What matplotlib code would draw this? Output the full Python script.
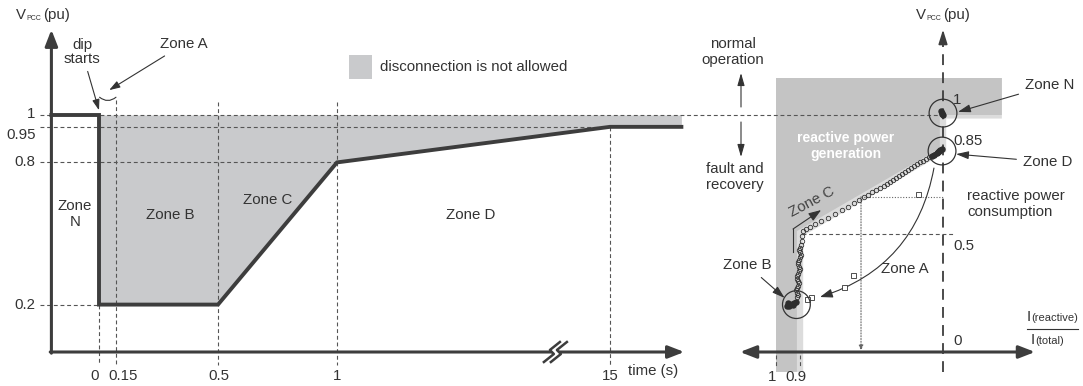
import numpy as np
import matplotlib.pyplot as plt
from matplotlib.patches import Polygon, Rectangle
from matplotlib.transforms import IdentityTransform

plt.rcParams['font.family'] = ['Liberation Sans', 'DejaVu Sans']
plt.rcParams['font.size'] = 10.8
plt.rcParams['text.color'] = '#333333'

W, H = 1083, 386
DARK = '#3d3d3d'
TXT = '#333333'
FILL_L = '#c9cacc'
FILL_R = '#c4c4c4'
FILL_EDGE = '#dcdcdc'

# ---- left panel: voltage profile the unit must ride through ----
t_prof = [-0.2, 0, 0, 0.5, 1, 15, 20]
v_prof = [1, 1, 0.2, 0.2, 0.8, 0.95, 0.95]
t_band = [0, 0.5, 1, 15, 20]
v_band = [0.2, 0.2, 0.8, 0.95, 0.95]
t_ticks = [0, 0.15, 0.5, 1, 15]
t_labels = ['0', '0.15', '0.5', '1', '15']
v_ticks = [1, 0.95, 0.8, 0.2]
v_labels = ['1', '0.95', '0.8', '0.2']
T_AXIS, T_END, T_BREAK = -0.2, 20.2, 12.2

# ---- right panel: measured trajectory, I(reactive)/I(total) vs V ----
zoneN_r = [0.010, 0.004, 0.0, 0.006]
zoneN_v = [1.015, 1.01, 1.0, 1.005]
zoneD_r = [0.070, 0.055, 0.040, 0.028, 0.017, 0.006, 0.030]
zoneD_v = [0.826, 0.833, 0.840, 0.846, 0.851, 0.855, 0.842]
zoneB_r = [0.955, 0.945, 0.935, 0.925, 0.915, 0.93, 0.945, 0.95]
zoneB_v = [0.195, 0.198, 0.202, 0.206, 0.21, 0.198, 0.193, 0.205]
zoneA_r = [0.157, 0.566, 0.623, 0.830, 0.855]
zoneA_v = [0.667, 0.325, 0.274, 0.232, 0.224]
zoneC_r = [0.913, 0.908, 0.913, 0.917, 0.913, 0.908, 0.904, 0.908, 0.913,
           0.913, 0.908, 0.904, 0.900, 0.904, 0.908, 0.908, 0.904, 0.900,
           0.893, 0.900, 0.904, 0.900, 0.893, 0.887, 0.887,
           0.881, 0.862, 0.836, 0.805, 0.767, 0.723, 0.679, 0.635, 0.597,
           0.560, 0.528, 0.497, 0.472, 0.447, 0.421, 0.396, 0.371, 0.352,
           0.333, 0.314, 0.296, 0.277, 0.258, 0.239, 0.220, 0.201, 0.182,
           0.164, 0.145, 0.126, 0.107, 0.088, 0.069, 0.050, 0.038]
zoneC_v = [0.23, 0.24, 0.25, 0.26, 0.27, 0.28, 0.29, 0.30, 0.31,
           0.32, 0.33, 0.34, 0.35, 0.36, 0.37, 0.38, 0.39, 0.40,
           0.41, 0.42, 0.43, 0.44, 0.45, 0.47, 0.49,
           0.511, 0.519, 0.527, 0.540, 0.553, 0.565, 0.582, 0.599, 0.612,
           0.629, 0.641, 0.654, 0.662, 0.675, 0.684, 0.692, 0.700, 0.709,
           0.717, 0.726, 0.734, 0.743, 0.751, 0.759, 0.768, 0.776, 0.785,
           0.793, 0.802, 0.806, 0.814, 0.823, 0.827, 0.835, 0.840]
# region where reactive current must be injected
gen_r = [1.0, 1.0, -0.37, -0.37, 0.02, 0.02, 0.913, 0.913]
gen_v = [-0.084, 1.156, 1.156, 1.0, 1.0, 0.86, 0.51, -0.084]
gen_edge_r = [1.0, 1.0, -0.37, -0.37, -0.02, -0.02, 0.88, 0.88]
gen_edge_v = [-0.084, 1.156, 1.156, 0.985, 0.985, 0.845, 0.49, -0.084]
r_ticks = [1, 0.9]
r_labels = ['1', '0.9']
DOT_R, DOT_V = 0.516, 0.655

# schematic (non-proportional) axis positions
T_KNOTS = [-1, 0, 0.15, 0.5, 1, 15, 30]
T_POS = [-1, 0, 0.0714, 0.5, 1, 2.147, 3.047]
R_KNOTS = [-2, 0, 0.9, 1, 3]
R_POS = [-318, 0, 143, 167, 647]


def t_fwd(t):
    return np.interp(t, T_KNOTS, T_POS)


def t_inv(d):
    return np.interp(d, T_POS, T_KNOTS)


def r_fwd(r):
    return np.interp(r, R_KNOTS, R_POS)


def r_inv(d):
    return np.interp(d, R_POS, R_KNOTS)


def fx(x, y):
    return (x / W, 1 - y / H)


fig = plt.figure(figsize=(W / 100, H / 100), dpi=100)
axL = fig.add_axes([0, 0, 700 / W, 1])
axR = fig.add_axes([700 / W, 0, 383 / W, 1])
for ax in (axL, axR):
    ax.set_axis_off()
    ax.set_ylim(-34 / 237, 352 / 237)
axL.set_xscale('function', functions=(t_fwd, t_inv))
axL.set_xlim(t_inv(-99 / 238), t_inv(601 / 238))
axR.set_xscale('function', functions=(r_fwd, r_inv))
axR.set_xlim(r_inv(243), r_inv(-140))

dash = (0, (3.5, 2.5))
dkw = dict(color='#555555', lw=0.8, ls=dash)

# ---------- left ----------
axL.fill_between(t_band, v_band, 1, color=FILL_L, lw=0, zorder=1)
axL.plot([-0.25, t_inv(601 / 238)], [1, 1], **dkw)
axL.plot([-0.25, 15], [0.95, 0.95], **dkw)
axL.plot([-0.25, 1], [0.8, 0.8], **dkw)
axL.plot([-0.25, 0], [0.2, 0.2], **dkw)
axL.plot([0, 0], [0.2, -0.055], **dkw)
axL.plot([0.15, 0.15], [1.063, -0.055], **dkw)
axL.plot([0.5, 0.5], [1.055, -0.055], **dkw)
axL.plot([1, 1], [1.055, -0.055], **dkw)
axL.plot([15, 15], [0.95, -0.055], **dkw)
axL.plot(t_prof, v_prof, color=DARK, lw=2.8, solid_joinstyle='miter', zorder=3)

akw = dict(arrowstyle='-|>,head_length=0.9,head_width=0.35', color=DARK, lw=2.2,
           shrinkA=0, shrinkB=0)
axL.annotate('', xy=(T_AXIS, 1.36), xytext=(T_AXIS, -0.005), arrowprops=akw, zorder=4)
axL.annotate('', xy=(T_END, 0), xytext=(T_AXIS - 0.005, 0), arrowprops=akw, zorder=4)

# axis break: two slanted zigzags, drawn in pixels around the break point
bx, by = axL.transData.transform((T_BREAK, 0))
zz = np.array([(-8, -10), (2, -2), (-2, 2), (8, 10)], dtype=float)
s1 = zz + [bx - 3.5, by]
s2 = zz + [bx + 3.5, by]
fig.add_artist(Polygon(np.vstack([s1, s2[::-1]]), closed=True, color='white', lw=0,
                       transform=IdentityTransform(), zorder=5))
for s in (s1, s2):
    fig.add_artist(plt.Line2D(s[:, 0], s[:, 1], color=DARK, lw=1.8,
                              transform=IdentityTransform(), zorder=6))

for t, lab, dx in zip(t_ticks, t_labels, [-4, 7, 1, 0, 0]):
    axL.annotate(lab, (t, 0), xytext=(dx, -24), textcoords='offset pixels',
                 ha='center', va='center', color=TXT)
for v, lab, dy in zip(v_ticks, v_labels, [1, -8, 0, 0]):
    axL.annotate(lab, (T_AXIS, v), xytext=(-16, dy), textcoords='offset pixels',
                 ha='right', va='center', color=TXT)
fig.text(*fx(653, 371), 'time (s)', ha='center', va='center')

# Zone A brace and pointers
axL.annotate('', xy=(0.15, 1.075), xytext=(0.005, 1.075),
             arrowprops=dict(arrowstyle='-', lw=0.8, color=TXT,
                             connectionstyle='arc3,rad=0.4', shrinkA=0, shrinkB=0))
axL.annotate('dip\nstarts', xy=(0, 1.02), xytext=fx(82, 52), textcoords='figure fraction',
             ha='center', va='center', linespacing=1.0,
             arrowprops=dict(arrowstyle='-|>,head_length=0.6,head_width=0.2', lw=0.8,
                             color=TXT, shrinkA=2, shrinkB=0))
axL.annotate('Zone A', xy=(0.09, 1.105), xytext=fx(184, 44), textcoords='figure fraction',
             ha='center', va='center',
             arrowprops=dict(arrowstyle='-|>,head_length=0.6,head_width=0.2', lw=0.8,
                             color=TXT, shrinkA=3, shrinkB=0))

fig.text(*fx(75, 214), 'Zone\nN', ha='center', va='center', linespacing=1.1)
fig.text(*fx(170, 215), 'Zone B', ha='center', va='center')
fig.text(*fx(268, 200), 'Zone C', ha='center', va='center')
fig.text(*fx(471, 215), 'Zone D', ha='center', va='center')

fig.add_artist(Rectangle(fx(349, 79), 23 / W, 24 / H, transform=fig.transFigure,
                         color=FILL_L, lw=0))
fig.text(*fx(380, 67), 'disconnection is not allowed', ha='left', va='center')


def vlabel(x, y):
    fig.text(*fx(x, y), 'V', ha='left', va='center')
    fig.text(*fx(x + 10, y + 3), 'PCC', fontsize=5, ha='left', va='center')
    fig.text(*fx(x + 27, y), '(pu)', ha='left', va='center')


vlabel(16, 15)

# ---------- right ----------
axR.add_patch(Polygon(np.column_stack([gen_edge_r, gen_edge_v]), closed=True,
                      color=FILL_EDGE, lw=0, zorder=1))
axR.add_patch(Polygon(np.column_stack([gen_r, gen_v]), closed=True,
                      color=FILL_R, lw=0, zorder=1))
axR.plot([r_inv(243), 0], [1, 1], **dkw)
axR.plot([0.887, -0.075], [0.5, 0.5], **dkw)
for r in r_ticks:
    axR.plot([r, r], [-0.012, -0.058], **dkw)
axR.plot([DOT_R, 0.0], [DOT_V, DOT_V], color='#666666', lw=0.8, ls=(0, (1, 1.5)))
axR.annotate('', xy=(DOT_R, 0.005), xytext=(DOT_R, DOT_V),
             arrowprops=dict(arrowstyle='-|>,head_length=0.3,head_width=0.12',
                             color='#666666', lw=0.8, ls=(0, (1, 1.5)),
                             shrinkA=0, shrinkB=0))

axR.plot([0, 0], [-0.084, 1.33], color=DARK, lw=1.3, ls=(0, (6, 4)), zorder=2)
axR.annotate('', xy=(0, 1.36), xytext=(0, 1.30),
             arrowprops=dict(arrowstyle='-|>,head_length=0.8,head_width=0.25',
                             color=DARK, lw=1.2, shrinkA=0, shrinkB=0))
axR.annotate('', xy=(r_inv(203), 0), xytext=(r_inv(-92), 0),
             arrowprops=dict(arrowstyle='<|-|>,head_length=0.9,head_width=0.35',
                             color=DARK, lw=2.2, shrinkA=0, shrinkB=0), zorder=4)

ckw = dict(color='#333333', lw=0, marker='o', ms=3.2, mfc='none', mew=0.6, zorder=5)
axR.plot(zoneC_r, zoneC_v, **ckw)
axR.plot(zoneA_r, zoneA_v, color='#333333', lw=0, marker='s', ms=3.6, mfc='white',
         mew=0.6, zorder=5)
for rr, vv in ((zoneN_r, zoneN_v), (zoneD_r, zoneD_v), (zoneB_r, zoneB_v)):
    axR.plot(rr, vv, color='#2e2e2e', lw=0, marker='o', ms=3.6, zorder=6)

axR.scatter([0.0, 0.006, 0.915], [1.008, 0.848, 0.2], s=400, facecolors='none',
            edgecolors='#333333', linewidths=0.9, zorder=6)

# Zone A excursion and Zone C recovery pointers
axR.annotate('', xy=(0.774, 0.232), xytext=(0.057, 0.776),
             arrowprops=dict(arrowstyle='-|>,head_length=0.7,head_width=0.25', lw=0.8,
                             color='#333333', connectionstyle='arc3,rad=-0.3',
                             shrinkA=0, shrinkB=0))
axR.plot([0.929, 0.929], [0.422, 0.519], color='#333333', lw=0.8)
axR.annotate('', xy=(0.767, 0.599), xytext=(0.929, 0.519),
             arrowprops=dict(arrowstyle='-|>,head_length=0.7,head_width=0.25', lw=0.8,
                             color='#333333', shrinkA=0, shrinkB=0))

pkw = dict(arrowstyle='-|>,head_length=0.7,head_width=0.22', lw=0.8, color='#333333',
           shrinkA=3, shrinkB=0)
axR.annotate('Zone N', xy=(-0.094, 1.013), xytext=fx(1050, 85), textcoords='figure fraction',
             ha='center', va='center', arrowprops=pkw)
axR.annotate('Zone D', xy=(-0.082, 0.835), xytext=fx(1048, 162), textcoords='figure fraction',
             ha='center', va='center', arrowprops=pkw)
axR.annotate('Zone B', xy=(0.964, 0.228), xytext=fx(747, 265), textcoords='figure fraction',
             ha='center', va='center', arrowprops=pkw)
fig.text(*fx(905, 269), 'Zone A', ha='center', va='center')
fig.text(*fx(812, 202), 'Zone C', ha='center', va='center', rotation=28,
         rotation_mode='anchor', color='#444444')

for v, lab, dy in ((1, '1', 15), (0.85, '0.85', 10), (0.5, '0.5', -12), (0, '0', 11)):
    axR.annotate(lab, (0, v), xytext=(10, dy), textcoords='offset pixels',
                 ha='left', va='center', color=TXT)
for r, lab in zip(r_ticks, r_labels):
    axR.annotate(lab, (r, 0), xytext=(-4, -25), textcoords='offset pixels',
                 ha='center', va='center', color=TXT)

fig.text(*fx(846, 146), 'reactive power\ngeneration', ha='center', va='center',
         color='white', fontweight='bold', fontsize=10, linespacing=1.1)
fig.text(*fx(967, 204), 'reactive power\nconsumption', ha='left', va='center',
         linespacing=1.1)
fig.text(*fx(733, 52), 'normal\noperation', ha='center', va='center', linespacing=1.1)
fig.text(*fx(735, 177), 'fault and\nrecovery', ha='center', va='center', linespacing=1.1)
sa = dict(arrowstyle='-|>,head_length=0.7,head_width=0.2', lw=0.8, color='#333333',
          shrinkA=0, shrinkB=0)
fig.add_artist(plt.Annotation('', xy=fx(741, 73), xycoords='figure fraction',
                              xytext=fx(741, 107), arrowprops=sa))
fig.add_artist(plt.Annotation('', xy=fx(741, 157), xycoords='figure fraction',
                              xytext=fx(741, 122), arrowprops=sa))

vlabel(916, 15)
fig.text(*fx(1027, 317), 'I', ha='left', va='center')
fig.text(*fx(1031, 318), '(reactive)', ha='left', va='center', fontsize=8)
fig.add_artist(plt.Line2D([1027 / W, 1078 / W], [1 - 329 / H] * 2, color='#333333', lw=0.8))
fig.text(*fx(1031, 340), 'I', ha='left', va='center')
fig.text(*fx(1035, 341), '(total)', ha='left', va='center', fontsize=8)

fig.savefig('out.png', dpi=100)
